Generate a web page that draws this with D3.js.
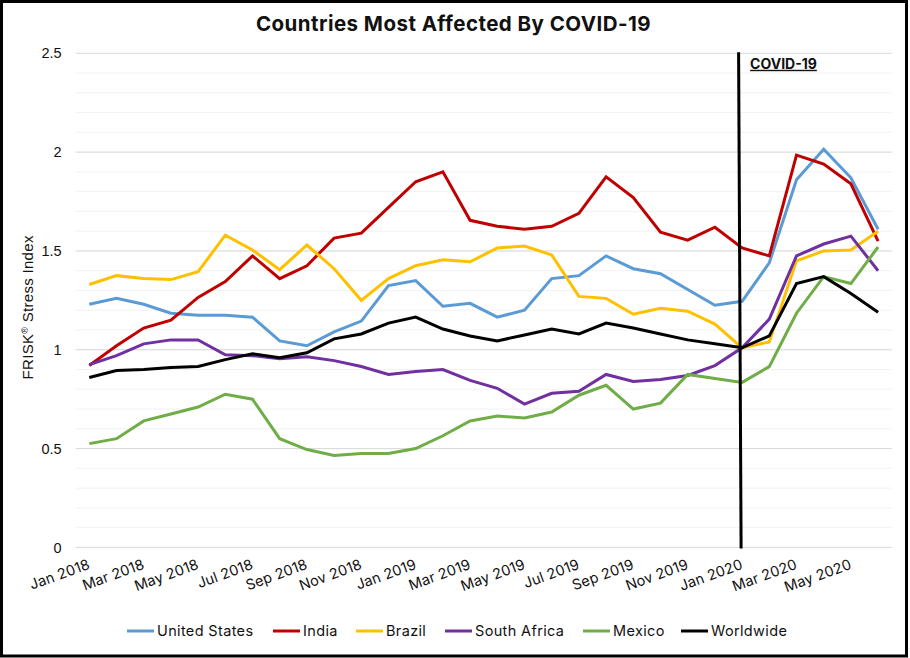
<!DOCTYPE html>
<html>
<head>
<meta charset="utf-8">
<script src="https://cdn.jsdelivr.net/npm/d3@7"></script>
<style>
    html, body { margin: 0; padding: 0; background: #fff; overflow: hidden; }
    text { font-family: Inter, "Open Sans", sans-serif; fill: #111; }
</style>
</head>
<body>
<svg id="chart" width="910" height="658"></svg>
<script>
const months = [
    'Jan 2018', 'Feb 2018', 'Mar 2018', 'Apr 2018', 'May 2018', 'Jun 2018',
    'Jul 2018', 'Aug 2018', 'Sep 2018', 'Oct 2018', 'Nov 2018', 'Dec 2018',
    'Jan 2019', 'Feb 2019', 'Mar 2019', 'Apr 2019', 'May 2019', 'Jun 2019',
    'Jul 2019', 'Aug 2019', 'Sep 2019', 'Oct 2019', 'Nov 2019', 'Dec 2019',
    'Jan 2020', 'Feb 2020', 'Mar 2020', 'Apr 2020', 'May 2020', 'Jun 2020'
];
const unitedStates = [1.23, 1.26, 1.23, 1.185, 1.175, 1.175, 1.165, 1.045, 1.02, 1.09, 1.145, 1.325, 1.35, 1.22, 1.235, 1.165, 1.2, 1.36, 1.375, 1.475, 1.41, 1.385, 1.305, 1.225, 1.245, 1.44, 1.86, 2.015, 1.87, 1.61];
const india = [0.92, 1.02, 1.11, 1.15, 1.265, 1.345, 1.475, 1.36, 1.425, 1.565, 1.59, 1.72, 1.85, 1.9, 1.655, 1.625, 1.61, 1.625, 1.69, 1.875, 1.77, 1.595, 1.555, 1.62, 1.515, 1.475, 1.985, 1.94, 1.84, 1.55];
const brazil = [1.33, 1.375, 1.36, 1.355, 1.395, 1.58, 1.505, 1.405, 1.53, 1.41, 1.25, 1.36, 1.425, 1.455, 1.445, 1.515, 1.525, 1.48, 1.27, 1.26, 1.18, 1.21, 1.195, 1.13, 1.01, 1.04, 1.45, 1.5, 1.505, 1.6];
const southAfrica = [0.925, 0.97, 1.03, 1.05, 1.05, 0.975, 0.97, 0.955, 0.965, 0.945, 0.915, 0.875, 0.89, 0.9, 0.845, 0.805, 0.725, 0.78, 0.79, 0.875, 0.84, 0.85, 0.87, 0.92, 1.01, 1.155, 1.475, 1.535, 1.575, 1.4];
const mexico = [0.525, 0.55, 0.64, 0.675, 0.71, 0.775, 0.75, 0.55, 0.495, 0.465, 0.475, 0.475, 0.5, 0.565, 0.64, 0.665, 0.655, 0.685, 0.77, 0.82, 0.7, 0.73, 0.875, 0.855, 0.835, 0.915, 1.185, 1.37, 1.335, 1.52];
const worldwide = [0.86, 0.895, 0.9, 0.91, 0.915, 0.95, 0.98, 0.96, 0.985, 1.055, 1.08, 1.135, 1.165, 1.105, 1.07, 1.045, 1.075, 1.105, 1.08, 1.135, 1.11, 1.08, 1.05, 1.03, 1.01, 1.07, 1.335, 1.37, 1.285, 1.19];

const seriesNames = ['United States', 'India', 'Brazil', 'South Africa', 'Mexico', 'Worldwide'];
const seriesValues = [unitedStates, india, brazil, southAfrica, mexico, worldwide];
const seriesColors = ['#5b9bd5', '#c00000', '#ffc000', '#7030a0', '#70ad47', '#000000'];
const majorTicks = [0, 0.5, 1, 1.5, 2, 2.5];
const minorTicks = d3.range(1, 25).map((d) => d / 10);
const eventMonth = 'Jan 2020';

const svg = d3.select('#chart');
const plot = { left: 75.7, right: 891.7, top: 53.3, bottom: 547.4 };

const x = d3.scalePoint().domain(months).range([plot.left, plot.right]).padding(0.5);
const y = d3.scaleLinear().domain([0, 2.5]).range([plot.bottom, plot.top]);

// frame
svg.append('rect')
    .attr('x', 1.5).attr('y', 1.5)
    .attr('width', 905).attr('height', 654.5)
    .attr('fill', '#fff')
    .attr('stroke', '#000')
    .attr('stroke-width', 3);

// gridlines, minor first so the major ones sit on top
svg.append('g')
    .selectAll('line')
    .data(minorTicks)
    .join('line')
    .attr('x1', plot.left).attr('x2', plot.right)
    .attr('y1', (d) => y(d)).attr('y2', (d) => y(d))
    .attr('stroke', '#f2f2f2');

svg.append('g')
    .selectAll('line')
    .data(majorTicks)
    .join('line')
    .attr('x1', plot.left).attr('x2', plot.right)
    .attr('y1', (d) => y(d)).attr('y2', (d) => y(d))
    .attr('stroke', '#d9d9d9');

// y axis labels
const yAxis = svg.append('g')
    .attr('transform', `translate(${plot.left},0)`)
    .call(d3.axisLeft(y).tickValues(majorTicks).tickSize(0).tickPadding(14).tickFormat(d3.format('~g')));
yAxis.select('.domain').remove();
yAxis.selectAll('text')
    .style('font-family', '"Liberation Sans", sans-serif')
    .style('font-size', '14.5px')
    .attr('fill', '#111');

// x axis labels, every second month
const xAxis = svg.append('g')
    .attr('transform', `translate(0,${plot.bottom})`)
    .call(d3.axisBottom(x).tickValues(months.filter((d, i) => i % 2 === 0)).tickSize(0).tickPadding(0));
xAxis.select('.domain').remove();
xAxis.selectAll('text')
    .style('font-family', 'Inter, sans-serif')
    .style('font-size', '14.5px')
    .style('letter-spacing', '0.1px')
    .attr('fill', '#111')
    .attr('text-anchor', 'end')
    .attr('dy', 0)
    .attr('transform', 'translate(1,21) rotate(-20)');

// series
const line = d3.line().x((d, i) => x(months[i])).y((d) => y(d));

svg.append('g')
    .selectAll('path')
    .data(seriesValues)
    .join('path')
    .attr('d', line)
    .attr('fill', 'none')
    .attr('stroke', (d, i) => seriesColors[i])
    .attr('stroke-width', 3);

// event marker, drawn slightly off vertical like the hand placed original
svg.append('line')
    .attr('x1', x(eventMonth) - 3.5).attr('y1', y(2.5) - 1)
    .attr('x2', x(eventMonth) - 1).attr('y2', y(0) + 1)
    .attr('stroke', '#000')
    .attr('stroke-width', 3);

svg.append('text')
    .attr('x', x(eventMonth) + 8)
    .attr('y', y(2.5) + 15.5)
    .attr('font-size', 14)
    .attr('font-weight', 700)
    .attr('text-decoration', 'underline')
    .text('COVID-19');

// title
svg.append('text')
    .attr('x', 453.5)
    .attr('y', 31)
    .attr('text-anchor', 'middle')
    .attr('font-size', 20.5)
    .attr('font-weight', 700)
    .attr('letter-spacing', 0.46)
    .text('Countries Most Affected By COVID-19');

// y axis title
svg.append('text')
    .attr('transform', `translate(33,${y(1.25) + 7}) rotate(-90)`)
    .attr('text-anchor', 'middle')
    .style('font-family', '"Liberation Sans", sans-serif')
    .attr('font-size', 15)
    .attr('letter-spacing', 0.3)
    .text('FRISK')
    .append('tspan')
    .attr('font-size', 9)
    .attr('dy', -5)
    .text('®')
    .clone(true)
    .attr('font-size', 15)
    .attr('dy', 5)
    .text(' Stress Index');

// legend
const legendX = [127, 273, 356, 445, 583, 681];
const legend = svg.append('g')
    .selectAll('g')
    .data(seriesNames)
    .join('g')
    .attr('transform', (d, i) => `translate(${legendX[i]},631)`);

legend.append('line')
    .attr('x1', 0).attr('x2', 27)
    .attr('stroke', (d, i) => seriesColors[i])
    .attr('stroke-width', 3);

legend.append('text')
    .attr('x', 30)
    .attr('y', 5)
    .attr('font-size', 14.5)
    .attr('letter-spacing', 0.35)
    .text((d) => d);
</script>
</body>
</html>
